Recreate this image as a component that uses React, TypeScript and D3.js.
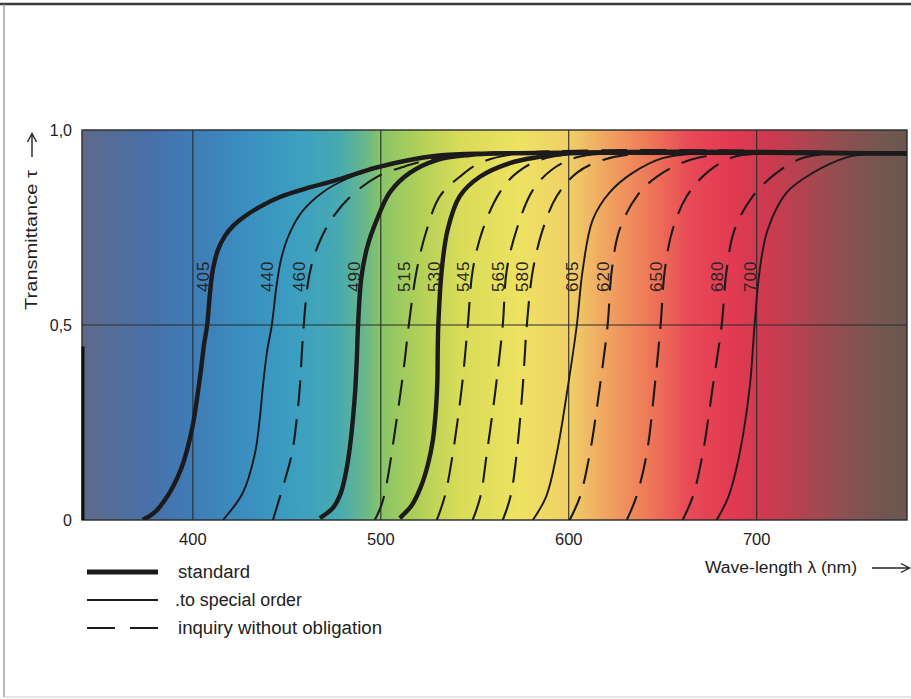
import React from "react";
import * as d3 from "d3";

// cut-on filter curves: [wavelength nm, transmittance]
const f405 = [[373.4, 0], [379.8, 0.02], [385.1, 0.051], [389.9, 0.09], [394.1, 0.136], [397.3, 0.187], [400, 0.244], [402.1, 0.308], [404.3, 0.385], [405.9, 0.449], [407.6, 0.5], [409, 0.577], [410.6, 0.641], [413.3, 0.692], [417, 0.728], [421.8, 0.756], [427.7, 0.779], [435.6, 0.803], [446.3, 0.828], [459.6, 0.849], [476.6, 0.872], [498.4, 0.905], [529.8, 0.934], [560, 0.94], [780, 0.94]];
const f440 = [[416, 0], [426.6, 0.07], [433, 0.17], [435.6, 0.26], [437.2, 0.34], [439.4, 0.43], [442, 0.5], [444.5, 0.6], [447, 0.67], [451, 0.73], [458, 0.79], [469, 0.84], [482, 0.875], [497, 0.9], [529.8, 0.933], [560, 0.94], [780, 0.94]];
const f460 = [[442.6, 0], [447.9, 0.085], [452.7, 0.17], [455.3, 0.26], [456.9, 0.34], [458, 0.43], [459, 0.5], [461, 0.6], [463.5, 0.66], [468, 0.72], [475, 0.78], [484, 0.83], [498, 0.88], [515, 0.91], [531.4, 0.93], [552.7, 0.94], [780, 0.94]];
const f490 = [[467.6, 0.005], [474.5, 0.031], [478.7, 0.069], [481.4, 0.121], [483.5, 0.185], [485.1, 0.256], [486.4, 0.333], [487.2, 0.41], [487.9, 0.5], [489.6, 0.62], [492.8, 0.7], [497.9, 0.77], [504.8, 0.84], [515.4, 0.89], [529.8, 0.923], [547.3, 0.936], [563.3, 0.94], [780, 0.94]];
const f515 = [[496.8, 0], [501.1, 0.05], [508.5, 0.26], [512.5, 0.4], [514.9, 0.5], [519.1, 0.64], [524.5, 0.745], [531.4, 0.83], [542, 0.88], [552.7, 0.915], [573.9, 0.94], [780, 0.94]];
const f530 = [[510.1, 0.005], [516.5, 0.038], [521.3, 0.085], [525, 0.141], [527.7, 0.205], [529.3, 0.282], [530.1, 0.359], [530.3, 0.436], [530.6, 0.5], [532.4, 0.64], [535.6, 0.745], [542, 0.83], [552.7, 0.88], [568.6, 0.915], [583, 0.93], [600.5, 0.94], [780, 0.94]];
const f545 = [[529.8, 0], [534, 0.06], [538.3, 0.17], [543.1, 0.34], [546.3, 0.5], [548.9, 0.64], [554.3, 0.745], [563.3, 0.84], [572.3, 0.89], [584.6, 0.923], [605.9, 0.94], [780, 0.94]];
const f565 = [[548.9, 0], [553, 0.06], [556.4, 0.17], [561.2, 0.34], [564.9, 0.5], [567, 0.64], [572.3, 0.745], [580.9, 0.846], [591.5, 0.9], [604.3, 0.93], [621.8, 0.94], [780, 0.94]];
const f580 = [[564.9, 0], [569, 0.06], [572.3, 0.17], [575.5, 0.34], [577.7, 0.5], [580.9, 0.64], [586.2, 0.745], [593.6, 0.83], [604.3, 0.89], [618.1, 0.923], [637.8, 0.94], [780, 0.94]];
const f605 = [[580.9, 0], [588, 0.06], [593.6, 0.17], [599.5, 0.34], [604.3, 0.5], [607.4, 0.64], [612.8, 0.77], [621.8, 0.84], [634, 0.89], [650, 0.928], [669.7, 0.94], [780, 0.94]];
const f620 = [[600.5, 0], [606, 0.06], [611.2, 0.17], [616.5, 0.34], [620.7, 0.5], [622.9, 0.64], [627.1, 0.745], [636.2, 0.83], [646.8, 0.88], [664.4, 0.923], [685.6, 0.94], [780, 0.94]];
const f650 = [[630.9, 0], [636, 0.06], [641.5, 0.17], [645.7, 0.34], [648.9, 0.5], [651.1, 0.64], [655.3, 0.745], [662.8, 0.83], [673.4, 0.89], [687.2, 0.93], [706.9, 0.94], [780, 0.94]];
const f680 = [[660.6, 0], [666, 0.06], [671.3, 0.17], [676.6, 0.34], [681.4, 0.5], [684, 0.64], [688.3, 0.745], [697.9, 0.83], [710.6, 0.89], [724.5, 0.928], [744.1, 0.94], [780, 0.94]];
const f700 = [[678.7, 0], [685, 0.06], [690.9, 0.17], [696.3, 0.34], [698.9, 0.5], [701.6, 0.64], [705.9, 0.745], [716, 0.84], [729.8, 0.89], [747.9, 0.93], [761.7, 0.94], [780, 0.94]];

const filterNames = ["405", "440", "460", "490", "515", "530", "545", "565", "580", "605", "620", "650", "680", "700"];
const filterKinds = ["standard", "special", "inquiry", "standard", "inquiry", "standard", "inquiry", "inquiry", "inquiry", "special", "inquiry", "inquiry", "inquiry", "special"];
const filterCurves = [f405, f440, f460, f490, f515, f530, f545, f565, f580, f605, f620, f650, f680, f700];

const xTicks = [400, 500, 600, 700];
const yTicks = [0, 0.5, 1];
const yTickLabels = ["0", "0,5", "1,0"];

const legendKinds = ["standard", "special", "inquiry"];
const legendLabels = ["standard", ".to special order", "inquiry without obligation"];

// spectrum backdrop (style only)
const bgStops: [number, string][] = [
  [342, "#5e6a8c"], [377, "#4870a8"], [400, "#3f7cb6"], [430, "#3a90c0"], [457, "#3ca0c0"],
  [478, "#48aab0"], [492, "#6ab888"], [500, "#88c468"], [521, "#b2d058"], [542, "#d8dc58"],
  [574, "#eee262"], [600, "#f0d068"], [622, "#f0a060"], [643, "#ee7858"], [664, "#e84a56"],
  [686, "#e23a52"], [707, "#cc3a50"], [734, "#a04a50"], [760, "#7a5550"], [780, "#6a5850"],
];

const W = 911;
const H = 699;
const left = 82, right = 907, top = 130, bottom = 520;

const x = d3.scaleLinear().domain([341, 780]).range([left, right]);
const y = d3.scaleLinear().domain([0, 1]).range([bottom, top]);

const styleOf = (k: string) =>
  k === "standard"
    ? { w: 4.4, dash: undefined }
    : k === "special"
    ? { w: 1.9, dash: undefined }
    : { w: 2.1, dash: "26 13" };

const font = "'Liberation Sans', Arial, Helvetica, sans-serif";
const ink = "#1c1a1a";

export default function App() {
  const line = d3
    .line<number[]>()
    .x((d) => x(d[0]))
    .y((d) => y(d[1]))
    .curve(d3.curveCatmullRom.alpha(0.5));

  const order = filterNames
    .map((_, i) => i)
    .sort((a, b) => (filterKinds[a] === "standard" ? 1 : 0) - (filterKinds[b] === "standard" ? 1 : 0));

  const legendWidths = [72, 127, 204];

  return (
    <svg width={W} height={H} style={{ position: "absolute", left: 0, top: 0, background: "#fff" }} fontFamily={font}>
      <defs>
        <linearGradient id="spec" gradientUnits="userSpaceOnUse" x1={left} x2={right} y1={0} y2={0}>
          {bgStops.map(([l, c], i) => (
            <stop key={i} offset={(x(l) - left) / (right - left)} stopColor={c} />
          ))}
        </linearGradient>
        <clipPath id="plot">
          <rect x={left} y={top} width={right - left} height={bottom - top} />
        </clipPath>
      </defs>

      {/* page frame */}
      <line x1={0} x2={W} y1={4} y2={4} stroke="#3a3a3a" strokeWidth={2.5} />
      <line x1={4} x2={4} y1={4} y2={697} stroke="#8a8a8a" strokeWidth={1.2} />
      <line x1={4} x2={W} y1={697} y2={697} stroke="#cfcfcf" strokeWidth={1} />

      <rect x={left} y={top} width={right - left} height={bottom - top} fill="url(#spec)" />

      {/* grid */}
      {xTicks.map((t) => (
        <line key={t} x1={x(t)} x2={x(t)} y1={top} y2={bottom} stroke="#2a2a2a" strokeWidth={1.1} />
      ))}
      <line x1={left} x2={right} y1={y(0.5)} y2={y(0.5)} stroke="#2a2a2a" strokeWidth={1.2} />
      <rect x={left} y={top} width={right - left} height={bottom - top} fill="none" stroke="#2a2a2a" strokeWidth={1.4} />
      <line x1={left + 1} x2={left + 1} y1={y(0.445)} y2={bottom} stroke="#111" strokeWidth={3} />

      <g clipPath="url(#plot)">
        {order.map((i) => {
          const s = styleOf(filterKinds[i]);
          return (
            <path
              key={filterNames[i]}
              d={line(filterCurves[i] as number[][]) || ""}
              fill="none"
              stroke={ink}
              strokeWidth={s.w}
              strokeDasharray={s.dash}
              strokeLinecap="butt"
            />
          );
        })}
      </g>

      {/* curve labels */}
      {filterNames.map((n, i) => {
        const half = filterCurves[i].find((d) => d[1] === 0.5) as number[];
        const lx = x(half[0]) - 4;
        const ly = y(0.625);
        return (
          <text
            key={n}
            transform={`translate(${lx},${ly}) rotate(-90)`}
            textAnchor="middle"
            dominantBaseline="central"
            fontSize={17}
            letterSpacing={1}
            fill="#2a2424"
          >
            {n}
          </text>
        );
      })}

      {/* axes text */}
      {yTicks.map((t, i) => (
        <text key={t} x={72} y={y(t)} textAnchor="end" dominantBaseline="central" fontSize={16} fill="#222">
          {yTickLabels[i]}
        </text>
      ))}
      {xTicks.map((t) => (
        <text key={t} x={x(t)} y={545} textAnchor="middle" fontSize={16.5} fill="#222">
          {t}
        </text>
      ))}

      <text transform="translate(37,310) rotate(-90)" fontSize={16} fill="#222" textLength={140} lengthAdjust="spacingAndGlyphs">
        Transmittance τ
      </text>
      <g stroke="#222" strokeWidth={1.4} fill="none">
        <line x1={32} x2={32} y1={157} y2={134} />
        <polyline points="27.5,142 32,133.5 36.5,142" />
        <line x1={872} x2={909} y1={568} y2={568} />
        <polyline points="901,563.5 909.5,568 901,572.5" />
      </g>
      <text x={705} y={573} fontSize={16} fill="#222" textLength={152} lengthAdjust="spacingAndGlyphs">
        Wave-length λ (nm)
      </text>

      {/* legend */}
      {legendKinds.map((k, i) => {
        const s = styleOf(k);
        const ly = 572 + i * 28;
        return (
          <g key={k}>
            <line
              x1={87}
              x2={158}
              y1={ly}
              y2={ly}
              stroke={ink}
              strokeWidth={k === "standard" ? 5 : s.w}
              strokeDasharray={k === "inquiry" ? "28 15" : undefined}
            />
            <text
              x={i === 1 ? 175 : 178}
              y={ly + 6}
              fontSize={18}
              fill="#222"
              textLength={legendWidths[i]}
              lengthAdjust="spacingAndGlyphs"
            >
              {legendLabels[i]}
            </text>
          </g>
        );
      })}
    </svg>
  );
}
